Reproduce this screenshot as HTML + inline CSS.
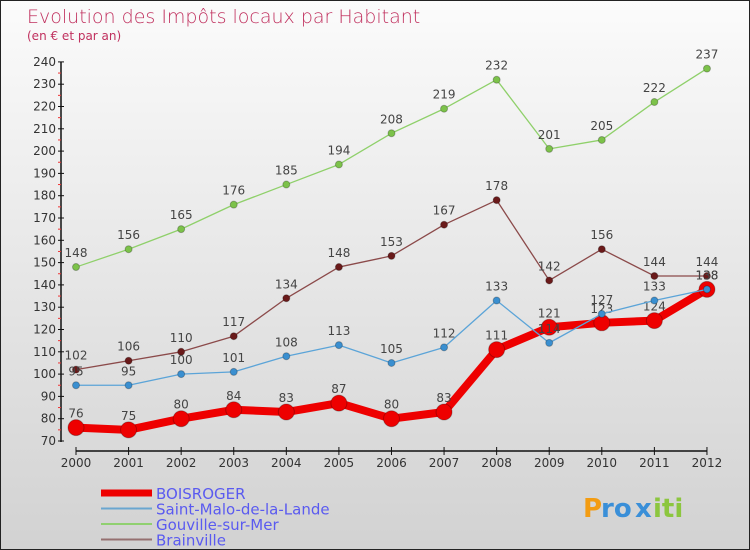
<!DOCTYPE html>
<html><head><meta charset="utf-8"><style>
body{margin:0}
#c{width:748px;height:548px;border:1px solid #222;background:linear-gradient(#fbfbfb,#d2d2d2);position:relative;font-family:"DejaVu Sans","Liberation Sans",sans-serif;overflow:hidden}
</style></head><body>
<div id="c">
<svg id="s" width="748" height="548" xmlns="http://www.w3.org/2000/svg">
<text x="26" y="22" font-size="19" fill="#c0305e" font-family="DejaVu Sans, sans-serif" font-weight="200">Evolution des Impôts locaux par Habitant</text>
<text x="26" y="39" font-size="12" fill="#c0305e">(en € et par an)</text>
<g id="axes"></g><g id="series"></g><g id="legend"></g>
<g font-size="26" font-weight="bold">
<text x="582" y="516" fill="#f39c12">P</text><text x="600" y="516" fill="#3a8fd8">ro</text><text x="634" y="516" fill="#3a8fd8">x</text><text x="652" y="516" fill="#8cc63f">iti</text>
</g>
</svg></div>
<script>
const years=[2000,2001,2002,2003,2004,2005,2006,2007,2008,2009,2010,2011,2012];
const yTicks=[70,80,90,100,110,120,130,140,150,160,170,180,190,200,210,220,230,240];
const boisroger=[76,75,80,84,83,87,80,83,111,121,123,124,138];
const saintMalo=[95,95,100,101,108,113,105,112,133,114,127,133,138];
const gouville=[148,156,165,176,185,194,208,219,232,201,205,222,237];
const brainville=[102,106,110,117,134,148,153,167,178,142,156,144,144];
const NS="http://www.w3.org/2000/svg";
const xs=i=>75+i*52.58;
const ys=v=>440-(v-70)*2.23;
function mk(t,a,p){const e=document.createElementNS(NS,t);for(const k in a)e.setAttribute(k,a[k]);p.appendChild(e);return e;}
const ax=document.getElementById('axes');
let l=mk('line',{x1:60,y1:ys(240),x2:60,y2:441,stroke:'#111','stroke-width':1.5},ax);


yTicks.forEach((v,k)=>{
 mk('line',{x1:57,x2:63,y1:ys(v),y2:ys(v),stroke:'#111'},ax);
 if(k<yTicks.length-1) mk('line',{x1:57,x2:60,y1:ys(v+5),y2:ys(v+5),stroke:'#e33'},ax);
 const t=mk('text',{x:55,y:ys(v)+4,'text-anchor':'end','font-size':12,fill:'#333'},ax);t.textContent=v;
 
 
});
l=mk('line',{x1:75,y1:450,x2:706,y2:450,stroke:'#111','stroke-width':1.5},ax);


years.forEach((y,i)=>{
 mk('line',{x1:xs(i),x2:xs(i),y1:446,y2:454,stroke:'#111'},ax);
 const t=mk('text',{x:xs(i),y:466,'text-anchor':'middle','font-size':12,fill:'#333'},ax);t.textContent=y;
 
 
});
const sg=document.getElementById('series');
function series(data,color,dot,w,r,name){
 const g=mk('g',{},sg);
 
 
 mk('polyline',{points:data.map((v,i)=>xs(i)+','+ys(v)).join(' '),fill:'none',stroke:color,'stroke-width':w,'stroke-linejoin':'round'},g);
 data.forEach((v,i)=>{
  const c=mk('circle',{cx:xs(i),cy:ys(v),r:r,fill:dot,stroke:'rgba(0,0,0,0.25)'},g);
  
  
  const t=mk('text',{x:xs(i),y:ys(v)-10,'text-anchor':'middle','font-size':12,fill:'#444'},g);t.textContent=v;
  
  
 });
}
series(gouville,'#8fd06a','#7cc24a',1.3,3.5,'series-gouville');
series(brainville,'#8b4a4a','#6a1a1a',1.3,3.5,'series-brainville');
series(boisroger,'#ee0000','#ee0000',8,8,'series-boisroger');
series(saintMalo,'#5ba4d8','#3a8fd0',1.3,3.5,'series-saint-malo');
const lg=document.getElementById('legend');
const items=[['BOISROGER','#ee0000',7],['Saint-Malo-de-la-Lande','#6aa6d0',2],['Gouville-sur-Mer','#90d070',2],['Brainville','#957070',2]];
items.forEach((it,k)=>{
 const y=492+k*15.5;
 const g=mk('g',{},lg);
 
 
 mk('line',{x1:100,x2:151,y1:y,y2:y,stroke:it[1],'stroke-width':it[2]},g);
 const t=mk('text',{x:155,y:y+6,'font-size':15,fill:'#5a5af0'},g);t.textContent=it[0];
});
</script>
</body></html>
